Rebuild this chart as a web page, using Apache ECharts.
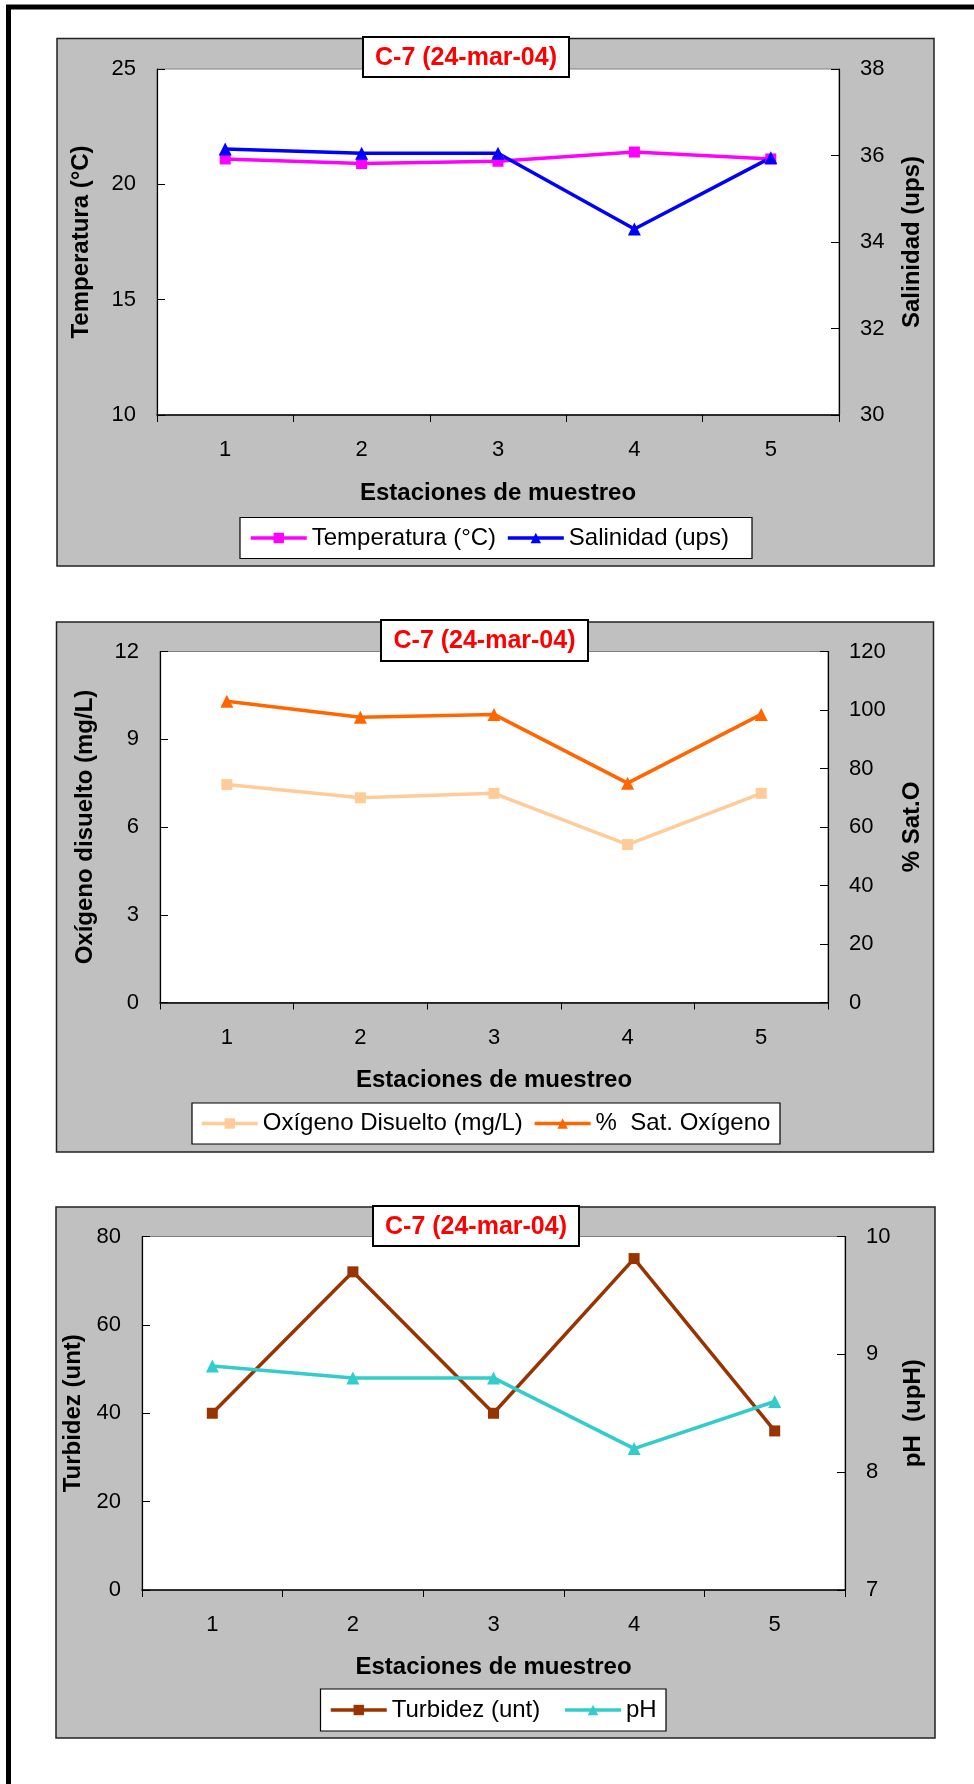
<!DOCTYPE html>
<html>
<head>
<meta charset="utf-8">
<title>C-7 (24-mar-04)</title>
<script src="https://cdn.jsdelivr.net/npm/echarts@6/dist/echarts.min.js"></script>
<style>
  html, body { margin: 0; padding: 0; background: #ffffff; }
  #chart { width: 974px; height: 1784px; }
</style>
</head>
<body>
<div id="chart"></div>
<script>
// Estaciones de muestreo
const estaciones = ['1', '2', '3', '4', '5'];

// Temperatura (°C) y salinidad (ups)
const temperatura = [21.1, 20.9, 21.0, 21.4, 21.1];
const salinidad = [36.15, 36.05, 36.05, 34.3, 35.95];

// Oxígeno disuelto (mg/L) y % de saturación
const oxigeno = [7.45, 7.0, 7.15, 5.4, 7.15];
const saturacion = [103, 97.5, 98.5, 75, 98.5];

// Turbidez (unt) y pH
const turbidez = [40, 72, 40, 75, 36];
const ph = [8.9, 8.8, 8.8, 8.2, 8.6];

// Escalas de los ejes: [min, max, intervalo]
const escalaTemp = [10, 25, 5];
const escalaSal = [30, 38, 2];
const escalaOx = [0, 12, 3];
const escalaSat = [0, 120, 20];
const escalaTurb = [0, 80, 20];
const escalaPh = [7, 10, 1];

const tituloEstacion = 'C-7 (24-mar-04)';
const nombreX = 'Estaciones de muestreo';

const FONT = '"Liberation Sans", Arial, sans-serif';

// Posición de cada panel (recuadro gris, área de trazado, título y leyenda)
const paneles = [
  { box: [57, 38.5, 877, 527.5], grid: [157, 69, 682, 346], title: [363, 37, 206, 40],
    legend: [240, 517.5, 512, 41], legendLeft: 249, legendGap: 10,
    leftGap: 64, rightGap: 61, nameGapX: 66 },
  { box: [56.5, 622, 877, 530], grid: [160, 651.5, 668, 351], title: [381, 620, 207, 41],
    legend: [192, 1103, 588, 41], legendLeft: 200, legendGap: 10,
    leftGap: 63, rightGap: 72, nameGapX: 65.5 },
  { box: [56, 1207, 879, 531], grid: [142, 1236.5, 703, 353.5], title: [373, 1206, 206, 40],
    legend: [320.5, 1689, 345.5, 42], legendLeft: 329, legendGap: 23,
    leftGap: 52, rightGap: 56, nameGapX: 65 }
];

const ejesY = [
  { left: 'Temperatura (°C)', right: 'Salinidad (ups)', sl: escalaTemp, sr: escalaSal },
  { left: 'Oxígeno disuelto (mg/L)', right: '% Sat.O', sl: escalaOx, sr: escalaSat },
  { left: 'Turbidez (unt)', right: 'pH  (upH)', sl: escalaTurb, sr: escalaPh }
];

const series = [
  { name: 'Temperatura (°C)', data: temperatura, color: '#FF00FF', symbol: 'rect', size: 11, g: 0, side: 0 },
  { name: 'Salinidad (ups)', data: salinidad, color: '#0000FF', symbol: 'triangle', size: 13, g: 0, side: 1 },
  { name: 'Oxígeno Disuelto (mg/L)', data: oxigeno, color: '#FFCC99', symbol: 'rect', size: 11, g: 1, side: 0 },
  { name: '%  Sat. Oxígeno', data: saturacion, color: '#FF6600', symbol: 'triangle', size: 13, g: 1, side: 1 },
  { name: 'Turbidez (unt)', data: turbidez, color: '#993300', symbol: 'rect', size: 11, g: 2, side: 0 },
  { name: 'pH', data: ph, color: '#33CCCC', symbol: 'triangle', size: 13, g: 2, side: 1 }
];

const axisText = { color: '#000', fontFamily: FONT, fontSize: 22 };
const nameText = { color: '#000', fontFamily: FONT, fontSize: 24, fontWeight: 'bold' };

const grids = [], xAxes = [], yAxes = [], legends = [], graphics = [];

// Marco exterior
graphics.push({
  type: 'rect', z: -20, silent: true,
  shape: { x: 8.5, y: 7, width: 2000, height: 3000 },
  style: { fill: 'none', stroke: '#000', lineWidth: 5 }
});

paneles.forEach((p, i) => {
  grids.push({
    left: p.grid[0], top: p.grid[1], width: p.grid[2], height: p.grid[3],
    show: true, backgroundColor: '#ffffff', borderColor: '#808080', borderWidth: 1
  });

  xAxes.push({
    type: 'category', gridIndex: i, data: estaciones, boundaryGap: true,
    name: nombreX, nameLocation: 'middle', nameGap: p.nameGapX, nameTextStyle: nameText,
    axisLine: { lineStyle: { color: '#000', width: 1.5 } },
    axisTick: { show: true, inside: false, length: 7, lineStyle: { color: '#000' } },
    axisLabel: Object.assign({ margin: 24 }, axisText),
    splitLine: { show: false }
  });

  const e = ejesY[i];
  [[e.left, e.sl, 'left', p.leftGap], [e.right, e.sr, 'right', p.rightGap]].forEach(([nm, sc, pos, gap]) => {
    yAxes.push({
      type: 'value', gridIndex: i, position: pos,
      min: sc[0], max: sc[1], interval: sc[2],
      name: nm, nameLocation: 'middle', nameGap: gap, nameTextStyle: nameText,
      axisLine: { show: true, lineStyle: { color: '#000', width: 1.2 } },
      axisTick: { show: true, inside: true, length: 8, lineStyle: { color: '#000' } },
      axisLabel: Object.assign({ margin: 21 }, axisText),
      splitLine: { show: false }
    });
  });

  // Recuadro gris del gráfico
  graphics.push({
    type: 'rect', z: -10, silent: true,
    shape: { x: p.box[0], y: p.box[1], width: p.box[2], height: p.box[3] },
    style: { fill: '#C0C0C0', stroke: '#222', lineWidth: 1.5 }
  });

  // Caja del título
  graphics.push({
    type: 'rect', z: 50, silent: true,
    shape: { x: p.title[0], y: p.title[1], width: p.title[2], height: p.title[3] },
    style: { fill: '#ffffff', stroke: '#000', lineWidth: 2 }
  });
  graphics.push({
    type: 'text', z: 51, silent: true,
    style: {
      text: tituloEstacion,
      x: p.title[0] + p.title[2] / 2, y: p.title[1] + p.title[3] / 2 + 1,
      fill: '#FF0000', font: 'bold 25px ' + FONT,
      align: 'center', verticalAlign: 'middle', textAlign: 'center', textVerticalAlign: 'middle'
    }
  });

  // Caja de la leyenda
  graphics.push({
    type: 'rect', z: 3, silent: true,
    shape: { x: p.legend[0], y: p.legend[1], width: p.legend[2], height: p.legend[3] },
    style: { fill: '#ffffff', stroke: '#000', lineWidth: 1.2 }
  });

  legends.push({
    data: series.filter(s => s.g === i).map(s => s.name),
    left: p.legendLeft, top: p.legend[1] + p.legend[3] / 2 - 12,
    orient: 'horizontal', padding: 0, itemGap: p.legendGap,
    itemWidth: 56, itemHeight: 13, selectedMode: false, z: 10,
    itemStyle: { borderWidth: 0 },
    lineStyle: { width: 3.5 },
    textStyle: { color: '#000', fontFamily: FONT, fontSize: 24, lineHeight: 24 }
  });
});

const seriesOpts = series.map(s => ({
  type: 'line', name: s.name, data: s.data,
  xAxisIndex: s.g, yAxisIndex: s.g * 2 + s.side,
  symbol: s.symbol, symbolSize: s.size, showSymbol: true,
  lineStyle: { color: s.color, width: 3.5 },
  itemStyle: { color: s.color, borderWidth: 0 },
  emphasis: { disabled: true },
  animation: false, z: 5
}));

const chart = echarts.init(document.getElementById('chart'), null, { renderer: 'canvas' });
chart.setOption({
  animation: false,
  textStyle: { fontFamily: FONT },
  grid: grids,
  xAxis: xAxes,
  yAxis: yAxes,
  legend: legends,
  series: seriesOpts,
  graphic: graphics
});
</script>
</body>
</html>
